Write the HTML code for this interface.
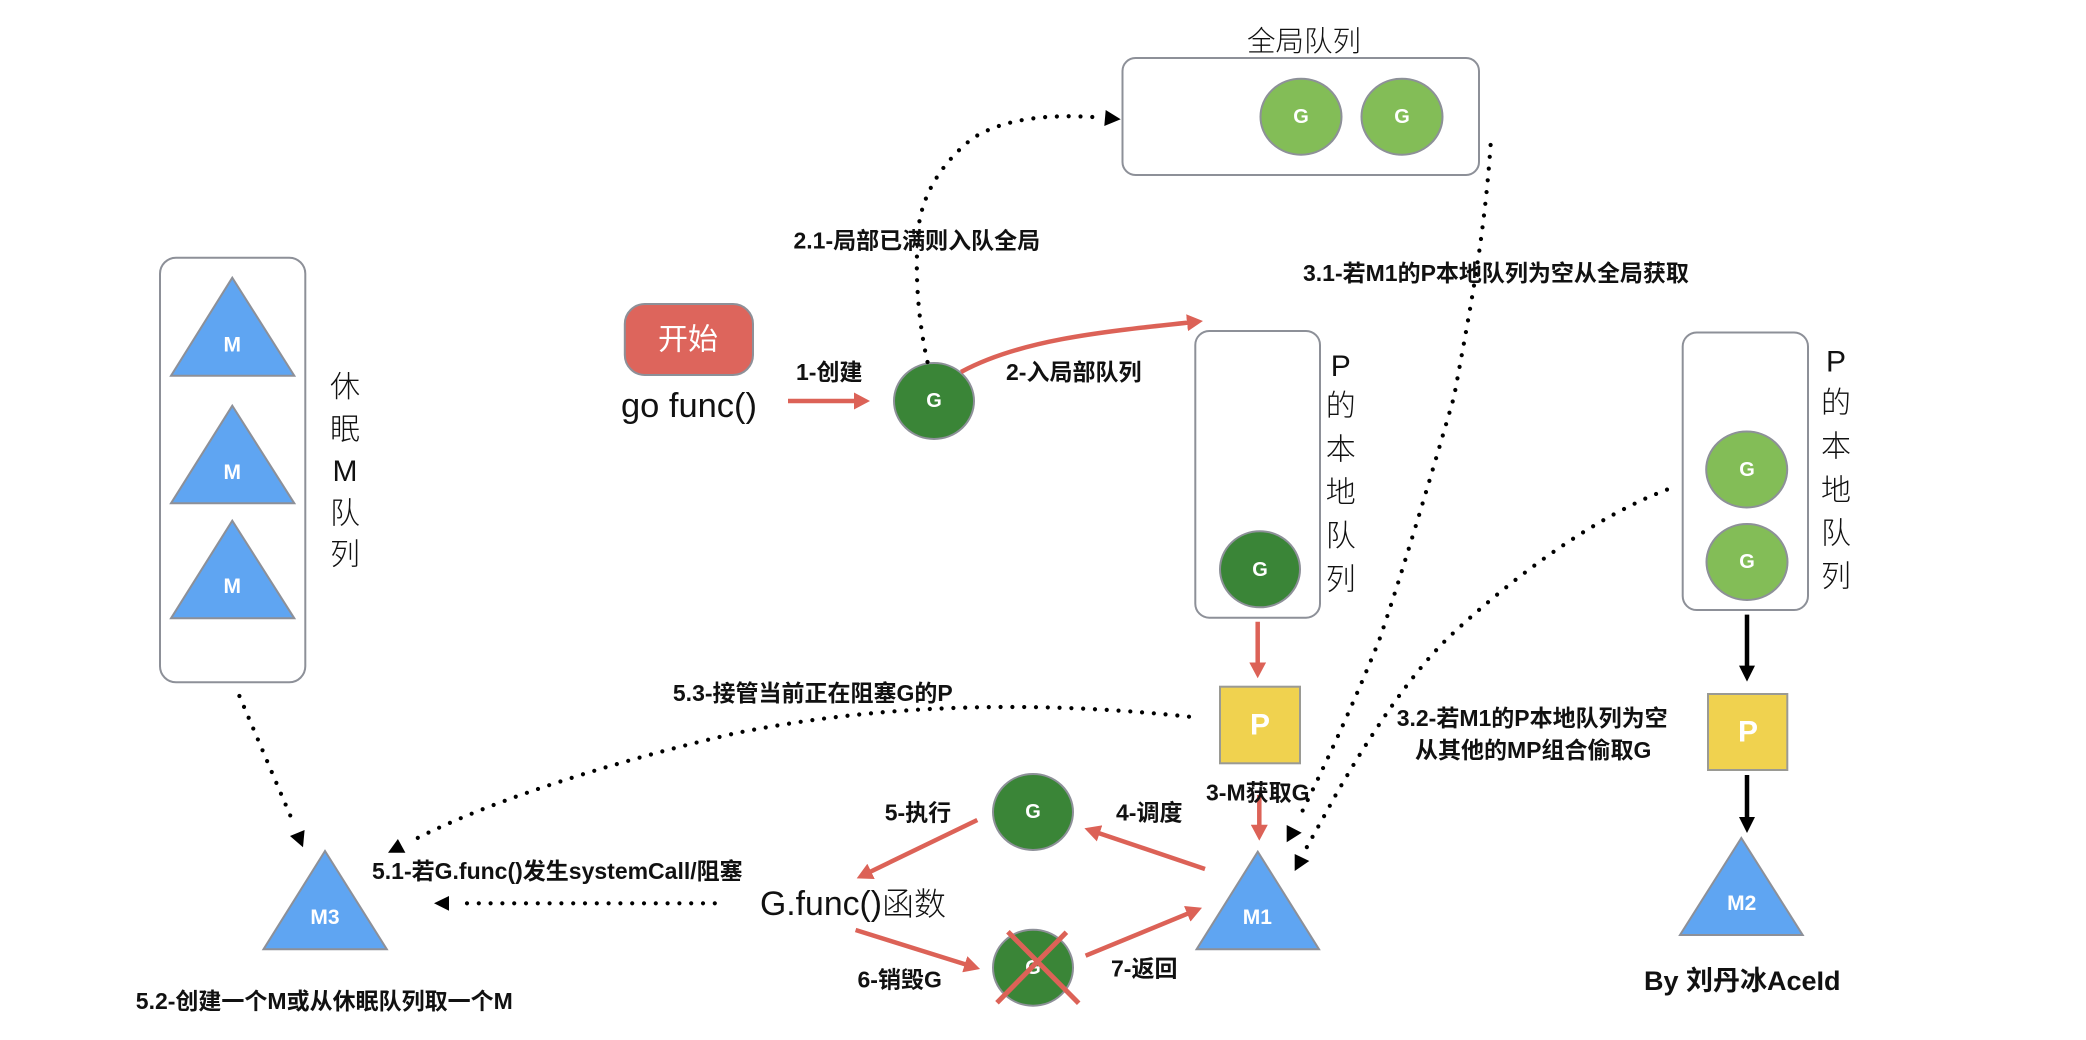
<!DOCTYPE html>
<html>
<head>
<meta charset="utf-8">
<title>GMP调度</title>
<style>
html,body{margin:0;padding:0;background:#fff;width:2086px;height:1040px;overflow:hidden}
svg{display:block;filter:blur(.35px)}
text{font-family:"Liberation Sans","Noto Sans CJK SC",sans-serif;dominant-baseline:central}
.l{font-size:23px;font-weight:700;fill:#111}
.t{font-size:30px;font-weight:300;fill:#111;text-anchor:middle}
.w{font-weight:700;fill:#fff;text-anchor:middle}
.box{fill:#fff;stroke:#8d9098;stroke-width:2}
.dg{fill:#3a8537;stroke:#8d9098;stroke-width:2}
.lg{fill:#83bd57;stroke:#8d9098;stroke-width:2}
.m{fill:#5fa5f2;stroke:#8d9098;stroke-width:2}
.p{fill:#f0d24f;stroke:#9a9a94;stroke-width:2}
.d{fill:none;stroke:#000;stroke-width:4.2;stroke-linecap:round;stroke-dasharray:0 11.8}
.r{fill:none;stroke:#dc6257;stroke-width:4.5;marker-end:url(#rh)}
.b{fill:none;stroke:#000;stroke-width:4.5;marker-end:url(#bh)}
</style>
</head>
<body>
<svg width="2086" height="1040" viewBox="0 0 2086 1040" xmlns="http://www.w3.org/2000/svg">
<defs>
<marker id="rh" markerUnits="userSpaceOnUse" markerWidth="16" markerHeight="17" refX="4" refY="8.5" orient="auto"><path d="M0 0L16 8.5L0 17z" fill="#dc6257"/></marker>
<marker id="bh" markerUnits="userSpaceOnUse" markerWidth="16" markerHeight="16" refX="4" refY="8" orient="auto"><path d="M0 0L16 8L0 16z" fill="#000"/></marker>
</defs>

<!-- containers -->
<rect class="box" x="1122.5" y="58" width="356.5" height="117" rx="13"/>
<rect class="box" x="160" y="257.7" width="145.3" height="424.6" rx="16"/>
<rect class="box" x="1195.3" y="331" width="124.7" height="286.7" rx="14"/>
<rect class="box" x="1682.7" y="332.5" width="125.3" height="277.5" rx="14"/>

<!-- start -->
<rect x="624.8" y="304" width="128.2" height="71" rx="20" fill="#dd655c" stroke="#8d9098" stroke-width="2"/>
<text class="w" x="688" y="340" style="font-size:30px;font-weight:400">开始</text>
<text x="621" y="406" font-size="34" fill="#111" textLength="136" lengthAdjust="spacingAndGlyphs">go func()</text>

<!-- G circles -->
<ellipse class="lg" cx="1301" cy="116.7" rx="40.5" ry="38"/>
<ellipse class="lg" cx="1402" cy="116.7" rx="40.5" ry="38"/>
<ellipse class="lg" cx="1746.7" cy="469.5" rx="40.5" ry="38"/>
<ellipse class="lg" cx="1747" cy="562" rx="40.5" ry="38"/>
<ellipse class="dg" cx="934" cy="401" rx="40" ry="38"/>
<ellipse class="dg" cx="1260" cy="569.3" rx="40" ry="38"/>
<ellipse class="dg" cx="1033" cy="812" rx="40" ry="38"/>
<ellipse class="dg" cx="1033" cy="967.7" rx="40" ry="38"/>
<text class="w" x="1301" y="117" font-size="20">G</text>
<text class="w" x="1402" y="117" font-size="20">G</text>
<text class="w" x="1747" y="470" font-size="20">G</text>
<text class="w" x="1747" y="562" font-size="20">G</text>
<text class="w" x="934" y="401" font-size="20">G</text>
<text class="w" x="1260" y="570" font-size="20">G</text>
<text class="w" x="1033" y="812" font-size="20">G</text>
<text class="w" x="1033" y="968" font-size="20">G</text>

<!-- P squares -->
<rect class="p" x="1220" y="686.7" width="80" height="76.6"/>
<rect class="p" x="1708" y="694" width="79.3" height="76"/>
<text class="w" x="1260" y="725" font-size="30">P</text>
<text class="w" x="1748" y="732" font-size="30">P</text>

<!-- M triangles -->
<polygon class="m" points="232.3,277.7 171,375.7 294.3,375.7"/>
<polygon class="m" points="232.3,405.7 171,503.3 294.3,503.3"/>
<polygon class="m" points="232.3,520.7 171,618.3 294.3,618.3"/>
<polygon class="m" points="1257.8,851.7 1196.6,949.3 1319,949.3"/>
<polygon class="m" points="325,851 263.5,949.3 386.8,949.3"/>
<polygon class="m" points="1741.3,838 1680,935 1802.7,935"/>
<text class="w" x="232.3" y="345" font-size="21">M</text>
<text class="w" x="232.3" y="472.3" font-size="21">M</text>
<text class="w" x="232.3" y="586.7" font-size="21">M</text>
<text class="w" x="1257.4" y="917.3" font-size="21">M1</text>
<text class="w" x="325" y="917.7" font-size="21">M3</text>
<text class="w" x="1741.7" y="903.5" font-size="21">M2</text>

<!-- dotted -->
<path class="d" d="M927.5 362C918 320 914 270 919 224C924 190 945 160 973 138C1005 118 1050 114 1096.7 117.3"/>
<polygon points="1105.7,110 1104.3,126 1120.7,119.3" fill="#000"/>
<path class="d" d="M1490.6 145C1484 240 1470 310 1454 397C1430 480 1400 580 1379 640.7C1355 700 1330 755 1298 820"/>
<polygon points="1286.7,825 1286.7,842.3 1301.7,832.7" fill="#000"/>
<path class="d" d="M1667 489.6C1600 515 1520 570 1448 638C1410 675 1370 735 1334 798C1325 815 1315 832 1306 848.7"/>
<polygon points="1294.7,854 1294.7,871 1309.3,861" fill="#000"/>
<path class="d" d="M1189 716.7C1060 703 900 700 736.6 733C640 755 500 795 409.7 842"/>
<polygon points="397.9,839 388,852.7 405.4,852.7" fill="#000"/>
<path class="d" d="M239.4 696L294 824.3"/>
<polygon points="304.6,830 290,836 303,847.3" fill="#000"/>
<path class="d" d="M714.8 903.3L456 903.3"/>
<polygon points="449,896 449,910.7 434,903.3" fill="#000"/>

<!-- red arrows -->
<path class="r" d="M788 401L858 401"/>
<path class="r" d="M961 372C1020 340 1100 332 1191 322.3"/>
<path class="r" d="M1257.7 621.7L1257.7 666.3"/>
<path class="r" d="M1259.3 795L1259.3 828.7"/>
<path class="r" d="M1205 869L1095.8 832.1"/>
<path class="r" d="M977.3 820L867.5 873.1"/>
<path class="r" d="M855.6 930L968.6 965.4"/>
<path class="r" d="M1085.6 955.7L1190.9 912.3"/>
<path d="M1007.9 931.7L1078.7 1003.3M1066.4 932.3L997 1002.7" stroke="#dc6257" stroke-width="5" fill="none"/>

<!-- black arrows -->
<path class="b" d="M1747 614.6L1747 669.6"/>
<path class="b" d="M1747 775L1747 821"/>

<!-- thin labels -->
<text class="t" x="1304" y="42" style="font-size:28.5px">全局队列</text>
<text class="t" x="345" y="387.7">休</text>
<text class="t" x="345" y="430">眠</text>
<text class="t" x="345" y="471.7">M</text>
<text class="t" x="345" y="514">队</text>
<text class="t" x="345" y="555">列</text>
<text class="t" x="1340.7" y="366.7">P</text>
<text class="t" x="1340.7" y="406.7">的</text>
<text class="t" x="1340.7" y="450">本</text>
<text class="t" x="1340.7" y="493">地</text>
<text class="t" x="1340.7" y="536.7">队</text>
<text class="t" x="1340.7" y="580">列</text>
<text class="t" x="1836" y="362">P</text>
<text class="t" x="1836" y="403.5">的</text>
<text class="t" x="1836" y="447">本</text>
<text class="t" x="1836" y="491">地</text>
<text class="t" x="1836" y="534">队</text>
<text class="t" x="1836" y="577">列</text>
<text x="760" y="904" font-size="34" fill="#111" textLength="122" lengthAdjust="spacingAndGlyphs">G.func()</text>
<text x="882" y="904" font-size="32" font-weight="300" fill="#111">函数</text>

<!-- bold labels -->
<text class="l" x="793.5" y="240.7">2.1-局部已满则入队全局</text>
<text class="l" x="796" y="372">1-创建</text>
<text class="l" x="1006" y="372">2-入局部队列</text>
<text class="l" x="1303" y="273">3.1-若M1的P本地队列为空从全局获取</text>
<text class="l" x="1396.7" y="718">3.2-若M1的P本地队列为空</text>
<text class="l" x="1415" y="750">从其他的MP组合偷取G</text>
<text class="l" x="1206" y="792.7">3-M获取G</text>
<text class="l" x="1116" y="812.7">4-调度</text>
<text class="l" x="884.7" y="812.7">5-执行</text>
<text class="l" x="857.5" y="979.3">6-销毁G</text>
<text class="l" x="1111" y="968.3">7-返回</text>
<text class="l" x="372" y="871">5.1-若G.func()发生systemCall/阻塞</text>
<text class="l" x="135.8" y="1001">5.2-创建一个M或从休眠队列取一个M</text>
<text class="l" x="672.9" y="693">5.3-接管当前正在阻塞G的P</text>
<text class="l" x="1644" y="981" style="font-size:27px">By 刘丹冰AceId</text>
</svg>
</body>
</html>
